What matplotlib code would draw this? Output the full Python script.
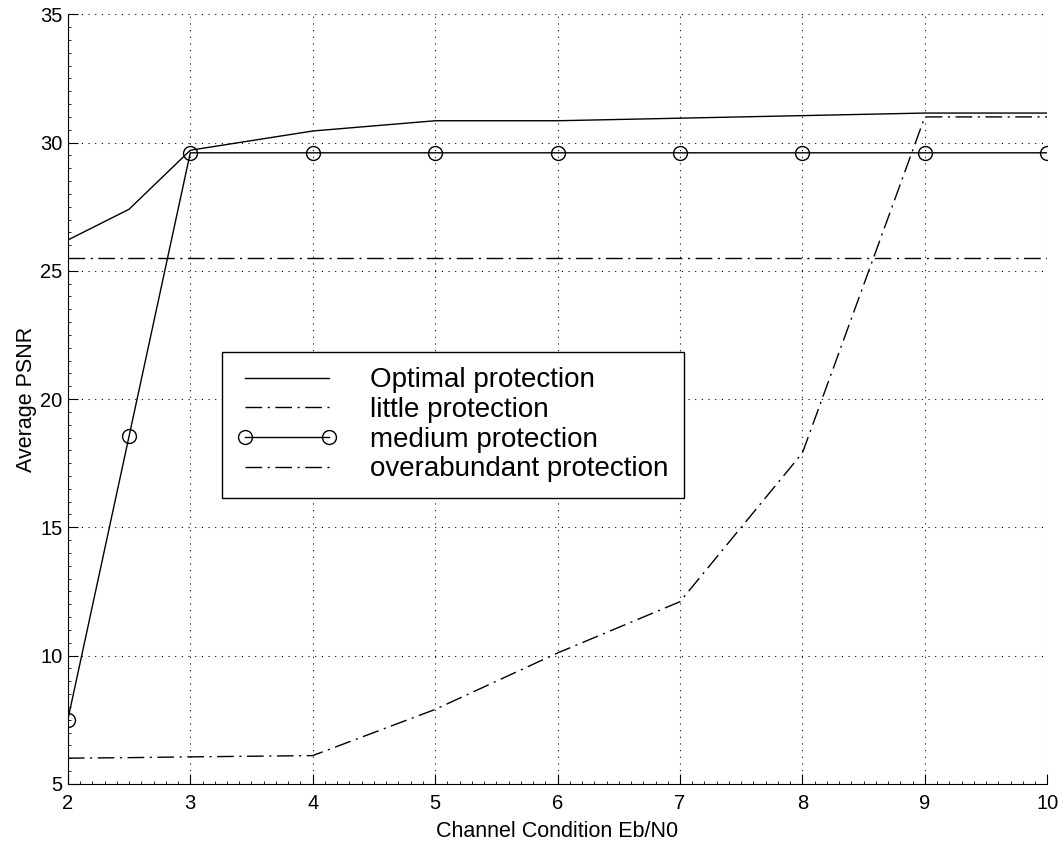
import numpy as np
import matplotlib
matplotlib.use('Agg')
import matplotlib.pyplot as plt
from matplotlib.ticker import AutoMinorLocator

plt.rcParams['font.family'] = ['Liberation Sans', 'DejaVu Sans']

# channel condition Eb/N0
ebn0 = [2, 2.5, 3, 4, 5, 6, 7, 8, 9, 10]
psnr_optimal = [26.2, 27.4, 29.7, 30.45, 30.85, 30.85, 30.95, 31.05, 31.15, 31.15]
psnr_little = [6.0, 6.02, 6.05, 6.1, 7.9, 10.1, 12.1, 17.9, 31.0, 31.0]
psnr_medium = [7.5, 18.55, 29.6, 29.6, 29.6, 29.6, 29.6, 29.6, 29.6, 29.6]
psnr_over = [25.5, 25.5, 25.5, 25.5, 25.5, 25.5, 25.5, 25.5, 25.5, 25.5]

fig = plt.figure(figsize=(10.6, 8.41), dpi=100)
ax = fig.add_axes([0.064, 0.068, 0.924, 0.915])

dashdot = (0, (12, 4, 1.5, 4))
ax.plot(ebn0, psnr_optimal, 'k-', lw=1.0, label='Optimal protection')
ax.plot(ebn0, psnr_little, color='k', ls=dashdot, lw=1.0, label='little protection')
ax.plot(ebn0, psnr_medium, 'k-', lw=1.0, marker='o', ms=10, mfc='none', mew=1.0,
        label='medium protection')
ax.plot(ebn0, psnr_over, color='k', ls=dashdot, lw=1.0, label='overabundant protection')

ax.set_xlim(2, 10)
ax.set_ylim(5, 35)
ax.set_xticks(range(2, 11))
ax.set_yticks(range(5, 36, 5))
ax.xaxis.set_minor_locator(AutoMinorLocator(10))
ax.yaxis.set_minor_locator(AutoMinorLocator(10))
ax.grid(True, which='major', ls=(0, (1, 5)), color='k', lw=0.8)
ax.spines['top'].set_visible(False)
ax.spines['right'].set_visible(False)
ax.tick_params(which='major', direction='in', length=7, labelsize=14.5)
ax.tick_params(axis='x', which='major', pad=7)
ax.tick_params(axis='y', which='major', pad=4)
ax.tick_params(which='minor', direction='in', length=2)
ax.set_xlabel('Channel Condition Eb/N0', fontsize=15.5, labelpad=6)
ax.set_ylabel('Average PSNR', fontsize=15.5, labelpad=2)

leg = ax.legend(loc='upper left', bbox_to_anchor=(0.157, 0.561), fontsize=20,
                numpoints=2, handlelength=3.6, handletextpad=1.2, borderpad=0.55,
                borderaxespad=0, labelspacing=0.13, fancybox=False, framealpha=1,
                edgecolor='k')
leg.get_frame().set_linewidth(1.0)

fig.savefig('out.png', dpi=100)
